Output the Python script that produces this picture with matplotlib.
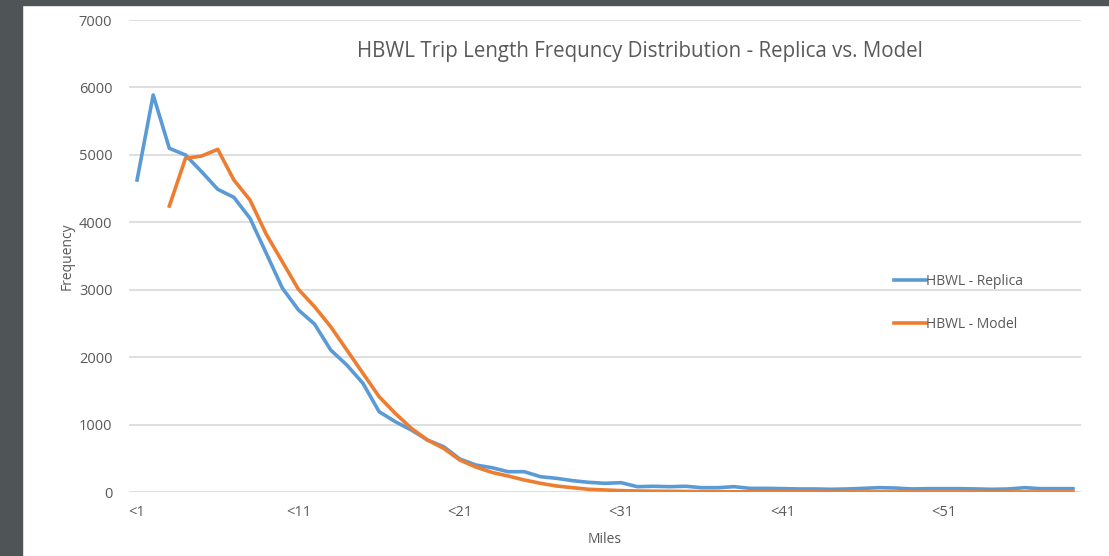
import numpy as np
import matplotlib.pyplot as plt
from matplotlib.patches import Rectangle

plt.rcParams['font.family'] = ['Open Sans', 'DejaVu Sans']

# trip length bins <1 .. <59 miles
miles = ['<%d' % m for m in range(1, 60)]

replica = [4627, 5888, 5097, 4998, 4750, 4489, 4370, 4059, 3544, 3025,
           2700, 2490, 2106, 1883, 1612, 1191, 1043, 919, 771, 672,
           490, 400, 360, 301, 301, 227, 203, 168, 143, 129,
           138, 79, 85, 79, 85, 64, 64, 79, 54, 54,
           50, 45, 45, 40, 45, 54, 64, 59, 45, 50,
           50, 50, 45, 40, 45, 64, 50, 50, 50]

model = [np.nan, np.nan, 4241, 4948, 4983, 5082, 4627, 4330, 3826, 3416,
         3006, 2748, 2452, 2106, 1760, 1414, 1167, 944, 771, 647,
         474, 370, 290, 237, 178, 129, 89, 64, 40, 30,
         20, 15, 12, 10, 8, 6, 5, 4, 3, 3,
         2, 2, 2, 1, 1, 1, 1, 1, 1, 1,
         1, 1, 1, 1, 1, 1, 1, 1, 1]

grey = '#595959'

fig = plt.figure(figsize=(11.09, 5.56), dpi=100)
# dark screenshot border on the left and top
fig.patches.append(Rectangle((0, 0), 22 / 1109, 1, transform=fig.transFigure,
                             color='#4f5457', zorder=0))
fig.patches.append(Rectangle((0, 1 - 5 / 556), 1, 5 / 556, transform=fig.transFigure,
                             color='#4f5457', zorder=0))

ax = fig.add_axes([129 / 1109, 1 - 492 / 556, 952 / 1109, 472 / 556])

x = np.arange(len(miles))
ax.plot(x, replica, color='#5b9bd5', lw=2.6, label='HBWL - Replica', solid_joinstyle='round')
ax.plot(x, model, color='#ed7d31', lw=2.6, label='HBWL - Model', solid_joinstyle='round')

ax.set_xlim(-0.5, len(miles) - 0.5)
ax.set_ylim(0, 7000)
ax.set_yticks(range(0, 7001, 1000))
ax.set_xticks(x[::10])
ax.set_xticklabels(miles[::10])
ax.grid(axis='y', color='#d9d9d9', lw=1.2)
ax.set_axisbelow(True)
for s in ax.spines.values():
    s.set_visible(False)
ax.tick_params(length=0, colors=grey, labelsize=10.5)
ax.tick_params(axis='y', pad=12)
ax.tick_params(axis='x', pad=9)

ax.set_ylabel('Frequency', color=grey, fontsize=10, labelpad=3)
ax.set_xlabel('Miles', color=grey, fontsize=10, labelpad=9)
ax.set_title('HBWL Trip Length Frequncy Distribution - Replica vs. Model',
             color=grey, fontsize=14.8, x=0.537, y=0.905)

leg = ax.legend(loc='center left', bbox_to_anchor=(0.79, 0.4), frameon=False,
                fontsize=10, handlelength=2.3, handletextpad=0.05, labelspacing=2.0,
                labelcolor=grey)

fig.savefig('out.png', dpi=100)
